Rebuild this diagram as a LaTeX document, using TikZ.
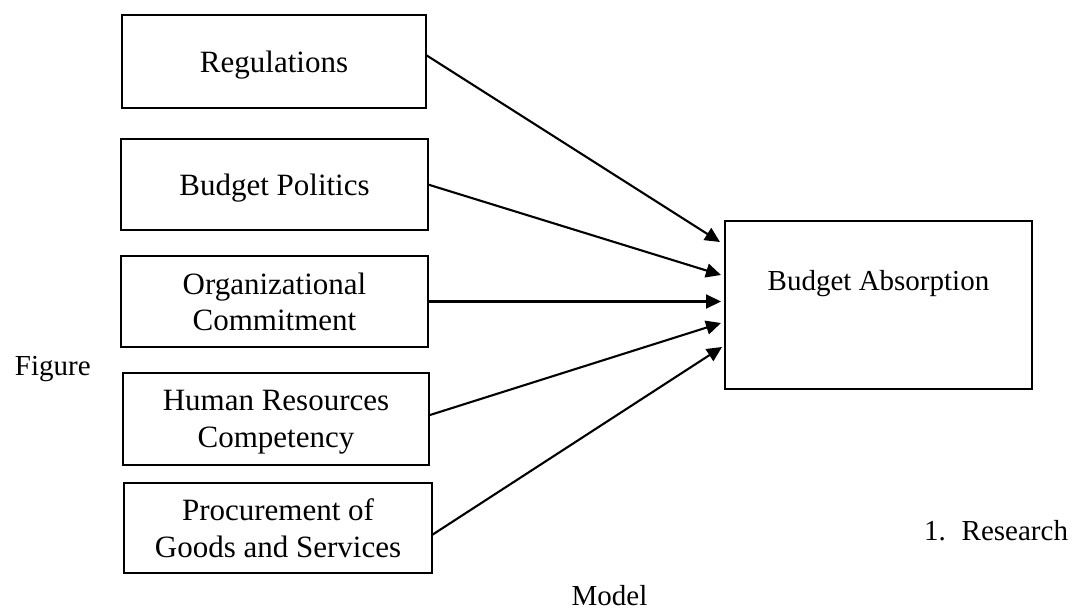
\documentclass[tikz,border=0pt]{standalone}
\usepackage{fontspec}
\setmainfont{Liberation Serif}
\usetikzlibrary{arrows.meta,calc}
\begin{document}
\begin{tikzpicture}[x=0.5pt,y=-0.5pt,
  box/.style={draw, line width=1.35pt, inner sep=0pt, outer sep=0pt, align=center,
              text depth=0pt, font=\fontsize{15.5}{18.25}\selectfont},
  plain/.style={inner sep=0pt, outer sep=0pt, font=\fontsize{14.5}{17}\selectfont},
  arr/.style={line width=1.05pt, -{Triangle[length=7.5pt,width=7pt]}}]
\useasboundingbox (0,0) rectangle (1072,610);
% left boxes
\node[box, minimum width=152pt, minimum height=46.5pt] (reg) at (274,61.5) {Regulations};
\node[box, minimum width=153.5pt, minimum height=45.5pt] (bp) at (274.5,184.5) {Budget Politics};
\node[box, minimum width=153.5pt, minimum height=45.5pt] (org) at (274.5,301.5) {Organizational\\Commitment};
\node[box, minimum width=153pt, minimum height=46pt] (hr) at (276,419) {Human Resources\\Competency};
\node[box, minimum width=154pt, minimum height=45pt] (proc) at (278,528) {Procurement of\\Goods and Services};
% right box
\node[draw, line width=1.35pt, inner sep=0pt, outer sep=0pt, minimum width=153.5pt, minimum height=84pt] (ba) at (878.5,305) {};
\node[plain, anchor=base] (batext) at (878.5,291) {Budget Absorption};
% free texts
\node[plain, anchor=base west] (fig) at (15,375) {Figure};
\node[plain, anchor=base west] (res) at (924,540) {1.\hspace{8pt}Research};
\node[plain, anchor=base] (model) at (609.5,605) {Model};
% arrow targets
\coordinate (t1) at (720,242);
\coordinate (t2) at (721,275);
\coordinate (t3) at (721,301.5);
\coordinate (t4) at (721,323);
\coordinate (t5) at (722,347);
\draw[arr] ($(reg.east)+(0,-6.5)$) -- (t1);
\draw[arr] (bp.east) -- (t2);
\draw[arr] (org.east) -- (t3);
\draw[arr] ($(hr.east)+(1,-4)$) -- (t4);
\draw[arr] ($(proc.east)+(0,7)$) -- (t5);
\end{tikzpicture}
\end{document}
